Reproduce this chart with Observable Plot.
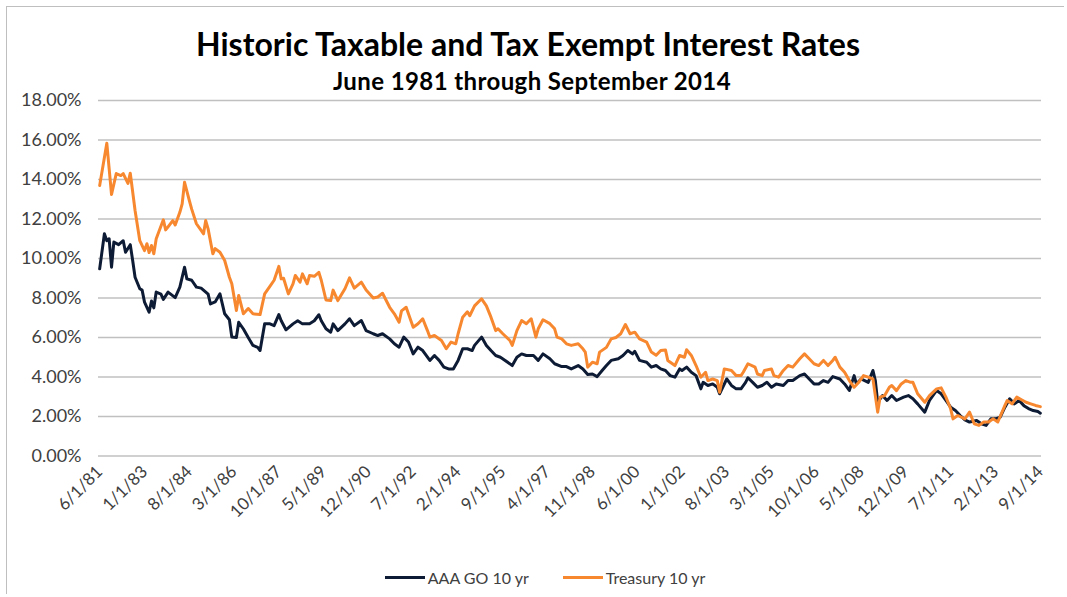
<!DOCTYPE html>
<html>
<head>
<meta charset="utf-8">
<script src="https://cdn.jsdelivr.net/npm/d3@7"></script>
<script src="https://cdn.jsdelivr.net/npm/@observablehq/plot@0.6"></script>
<style>
  html, body { margin: 0; padding: 0; background: #fff; }
  #frame { position: absolute; left: 6px; top: 6px; width: 1058px; height: 588px; border: 1px solid #bfbfbf; border-right: none; border-bottom: none; box-sizing: border-box; }
  #title { position: absolute; left: 0; width: 1056px; top: 25px; text-align: center; font-family: Lato, "Open Sans", sans-serif; font-weight: bold; font-size: 32px; color: #000; line-height: 38px; }
  #subtitle { position: absolute; left: 0; width: 1064px; top: 67px; text-align: center; font-family: Lato, "Open Sans", sans-serif; font-weight: bold; font-size: 24px; letter-spacing: 0.4px; color: #000; line-height: 28px; }
  #chart { position: absolute; left: 0; top: 76px; }
  #legend { position: absolute; left: 0; width: 1090px; top: 563px; text-align: center; font-family: Lato, "Liberation Sans", sans-serif; font-size: 16px; color: #404040; }
  .item { display: inline-flex; align-items: center; margin: 0 17px; }
  .sw { display: inline-block; width: 40px; height: 3px; margin-right: 3px; }
</style>
</head>
<body>
<div id="frame"></div>
<div id="title">Historic Taxable and Tax Exempt Interest Rates</div>
<div id="subtitle">June 1981 through September 2014</div>
<div id="chart"></div>
<div id="legend"></div>
<script>
// Series names and colours
const seriesNames = ["AAA GO 10 yr", "Treasury 10 yr"];
const seriesColors = ["#0e1b34", "#f7882f"];

// Category-axis labels shown on the x axis
const tickLabels = ["6/1/81","1/1/83","8/1/84","3/1/86","10/1/87","5/1/89","12/1/90","7/1/92","2/1/94","9/1/95","4/1/97","11/1/98","6/1/00","1/1/02","8/1/03","3/1/05","10/1/06","5/1/08","12/1/09","7/1/11","2/1/13","9/1/14"];

// Y tick values (percent)
const yTicks = [0, 2, 4, 6, 8, 10, 12, 14, 16, 18];

// AAA GO 10 yr (percent), [month, value]
const aaaGO = [
["1981-06",9.48],["1981-08",11.25],["1981-09",10.9],["1981-10",11.0],["1981-11",9.56],["1981-12",10.83],
["1982-02",10.7],["1982-04",10.9],["1982-05",10.32],["1982-07",10.7],["1982-08",9.9],["1982-09",9.05],["1982-11",8.47],["1982-12",8.4],
["1983-01",7.79],["1983-03",7.28],["1983-04",7.85],["1983-05",7.5],["1983-06",8.3],["1983-08",8.2],["1983-09",7.93],["1983-11",8.3],
["1984-02",8.02],["1984-04",8.55],["1984-06",9.56],["1984-07",8.97],["1984-09",8.9],["1984-11",8.55],
["1985-01",8.5],["1985-04",8.2],["1985-05",7.7],["1985-07",7.8],["1985-09",8.21],["1985-11",7.2],
["1986-01",6.9],["1986-02",6.02],["1986-04",6.0],["1986-05",6.77],["1986-07",6.43],["1986-09",6.0],["1986-11",5.6],
["1987-01",5.5],["1987-02",5.34],["1987-04",6.69],["1987-06",6.7],["1987-08",6.6],["1987-10",7.16],["1987-11",6.85],
["1988-01",6.39],["1988-04",6.69],["1988-06",6.85],["1988-08",6.69],["1988-11",6.7],
["1989-01",6.85],["1989-03",7.15],["1989-04",6.85],["1989-06",6.44],["1989-08",6.27],["1989-09",6.69],["1989-11",6.35],
["1990-02",6.69],["1990-04",6.95],["1990-06",6.6],["1990-09",6.86],["1990-11",6.35],
["1991-02",6.19],["1991-04",6.1],["1991-06",6.19],["1991-09",5.93],["1991-11",5.68],
["1992-01",5.51],["1992-03",6.02],["1992-05",5.77],["1992-07",5.17],["1992-09",5.51],["1992-11",5.34],
["1993-02",4.84],["1993-04",5.09],["1993-06",4.84],["1993-08",4.5],["1993-10",4.41],["1993-12",4.41],
["1994-02",4.84],["1994-04",5.43],["1994-06",5.43],["1994-08",5.34],["1994-09",5.6],["1994-12",6.02],
["1995-02",5.6],["1995-04",5.34],["1995-06",5.09],["1995-08",5.0],["1995-10",4.84],
["1996-01",4.58],["1996-03",5.0],["1996-05",5.17],["1996-07",5.09],["1996-10",5.09],["1996-12",4.84],
["1997-02",5.17],["1997-05",4.92],["1997-07",4.67],["1997-10",4.53],["1997-12",4.53],
["1998-02",4.41],["1998-05",4.58],["1998-07",4.41],["1998-09",4.13],["1998-11",4.15],
["1999-01",4.02],["1999-03",4.3],["1999-05",4.58],["1999-07",4.84],["1999-10",4.92],["1999-12",5.09],
["2000-02",5.34],["2000-04",5.17],["2000-05",5.3],["2000-07",4.84],["2000-10",4.75],["2000-12",4.5],
["2001-02",4.58],["2001-04",4.41],["2001-06",4.33],["2001-08",4.07],["2001-10",3.99],["2001-12",4.41],
["2002-01",4.33],["2002-03",4.5],["2002-05",4.24],["2002-07",4.07],["2002-09",3.4],["2002-10",3.73],["2002-12",3.57],
["2003-02",3.65],["2003-04",3.48],["2003-05",3.15],["2003-08",3.9],["2003-10",3.57],["2003-12",3.4],
["2004-02",3.4],["2004-04",3.73],["2004-05",3.96],["2004-07",3.73],["2004-09",3.48],["2004-11",3.57],
["2005-01",3.73],["2005-03",3.48],["2005-05",3.65],["2005-08",3.57],["2005-10",3.82],["2005-12",3.82],
["2006-03",4.07],["2006-05",4.15],["2006-07",3.9],["2006-09",3.65],["2006-11",3.65],
["2007-01",3.82],["2007-03",3.73],["2007-05",4.02],["2007-08",3.9],["2007-10",3.65],["2007-12",3.32],
["2008-02",4.07],["2008-03",3.65],["2008-05",3.9],["2008-08",3.73],["2008-10",4.33],["2008-11",3.82],["2008-12",2.72],
["2009-02",3.06],["2009-04",2.81],["2009-06",3.06],["2009-08",2.81],["2009-11",2.98],
["2010-01",3.06],["2010-03",2.9],["2010-05",2.64],["2010-08",2.22],["2010-10",2.81],
["2011-01",3.32],["2011-03",3.15],["2011-05",2.81],["2011-07",2.47],["2011-09",2.3],["2011-11",2.05],
["2012-01",1.83],["2012-03",1.72],["2012-06",1.8],["2012-08",1.63],["2012-10",1.55],["2012-12",1.88],
["2013-02",1.88],["2013-04",1.97],["2013-06",2.47],["2013-08",2.9],["2013-10",2.64],["2013-12",2.81],
["2014-02",2.55],["2014-04",2.4],["2014-06",2.3],["2014-08",2.25],["2014-09",2.17]
];

// Treasury 10 yr (percent), [month, value]
const treasury10 = [
["1981-06",13.7],["1981-09",15.84],["1981-11",13.24],
["1982-01",14.3],["1982-03",14.2],["1982-04",14.3],["1982-06",13.8],["1982-07",14.32],["1982-09",12.43],["1982-11",10.9],
["1983-01",10.4],["1983-02",10.75],["1983-03",10.3],["1983-04",10.66],["1983-05",10.24],["1983-06",11.0],["1983-09",11.96],["1983-10",11.45],["1983-11",11.6],
["1984-01",11.92],["1984-02",11.7],["1984-04",12.34],["1984-05",12.77],["1984-06",13.86],["1984-08",12.94],["1984-09",12.5],["1984-11",11.76],
["1985-01",11.42],["1985-02",11.25],["1985-03",11.92],["1985-04",11.5],["1985-06",10.24],["1985-07",10.5],["1985-09",10.32],["1985-11",9.9],
["1986-01",9.05],["1986-02",8.72],["1986-04",7.37],["1986-05",8.13],["1986-07",7.2],["1986-09",7.47],["1986-11",7.2],
["1987-02",7.16],["1987-04",8.21],["1987-06",8.55],["1987-08",8.9],["1987-10",9.6],["1987-11",8.97],["1987-12",9.0],
["1988-02",8.21],["1988-04",8.72],["1988-05",9.14],["1988-07",8.8],["1988-08",9.22],["1988-10",8.72],["1988-11",9.14],
["1989-01",9.1],["1989-03",9.3],["1989-04",8.9],["1989-06",7.9],["1989-08",7.87],["1989-09",8.4],["1989-11",7.87],
["1990-02",8.47],["1990-04",9.02],["1990-06",8.5],["1990-09",8.8],["1990-11",8.4],
["1991-02",8.0],["1991-04",8.05],["1991-06",8.24],["1991-09",7.53],["1991-11",7.2],
["1992-01",6.77],["1992-02",7.35],["1992-04",7.53],["1992-07",6.52],["1992-09",6.7],["1992-11",6.95],
["1993-01",6.35],["1993-02",6.02],["1993-04",6.1],["1993-07",5.85],["1993-09",5.43],["1993-11",5.77],
["1994-01",5.68],["1994-02",6.19],["1994-04",7.03],["1994-06",7.3],["1994-07",7.1],["1994-09",7.6],["1994-12",7.96],
["1995-02",7.6],["1995-04",7.03],["1995-06",6.35],["1995-07",6.44],["1995-09",6.19],["1995-12",5.85],
["1996-01",5.6],["1996-03",6.35],["1996-05",6.86],["1996-07",6.7],["1996-09",6.95],["1996-11",6.02],["1996-12",6.44],
["1997-02",6.9],["1997-05",6.7],["1997-07",6.44],["1997-08",6.02],["1997-10",5.93],["1997-12",5.68],
["1998-02",5.6],["1998-05",5.68],["1998-07",5.43],["1998-08",5.26],["1998-09",4.5],["1998-11",4.75],
["1999-01",4.67],["1999-02",5.26],["1999-05",5.5],["1999-07",5.93],["1999-09",6.0],["1999-11",6.19],
["2000-01",6.66],["2000-03",6.19],["2000-05",6.27],["2000-07",5.93],["2000-10",5.77],["2000-12",5.26],
["2001-02",5.1],["2001-04",5.34],["2001-06",5.37],["2001-07",4.84],["2001-10",4.58],["2001-12",5.09],
["2002-02",5.0],["2002-03",5.38],["2002-05",5.09],["2002-07",4.58],["2002-09",3.99],["2002-11",4.24],["2002-12",3.82],
["2003-02",3.9],["2003-04",3.82],["2003-05",3.23],["2003-07",4.41],["2003-10",4.33],["2003-12",4.07],
["2004-02",4.07],["2004-03",4.24],["2004-05",4.67],["2004-08",4.5],["2004-09",4.15],["2004-11",4.07],["2004-12",4.33],
["2005-03",4.41],["2005-04",4.07],["2005-06",3.99],["2005-08",4.33],["2005-10",4.58],["2005-12",4.5],
["2006-03",4.92],["2006-05",5.17],["2006-07",4.92],["2006-09",4.67],["2006-11",4.58],
["2007-01",4.84],["2007-03",4.58],["2007-05",4.84],["2007-06",5.0],["2007-08",4.5],["2007-10",4.24],["2007-12",3.82],
["2008-02",3.48],["2008-04",3.73],["2008-06",4.07],["2008-08",3.99],["2008-10",3.9],["2008-12",2.22],
["2009-01",2.98],["2009-03",3.06],["2009-05",3.48],["2009-06",3.57],["2009-08",3.31],["2009-10",3.65],["2009-12",3.82],
["2010-02",3.73],["2010-03",3.73],["2010-05",3.15],["2010-08",2.72],["2010-10",3.06],
["2011-01",3.4],["2011-03",3.45],["2011-05",2.98],["2011-07",2.39],["2011-08",1.88],["2011-10",2.05],
["2012-01",1.88],["2012-03",2.22],["2012-05",1.63],["2012-07",1.55],["2012-09",1.72],["2012-11",1.72],
["2013-01",1.88],["2013-03",1.72],["2013-06",2.56],["2013-07",2.81],["2013-09",2.64],["2013-11",2.98],
["2014-01",2.85],["2014-03",2.72],["2014-05",2.64],["2014-07",2.56],["2014-09",2.5]
];

const parseMonth = d3.utcParse("%Y-%m");
const parseLabel = d3.utcParse("%-m/%-d/%y");
const toRows = (arr, name) => arr.map(([m, v]) => ({date: parseMonth(m), value: v, series: name}));
const rows = [...toRows(aaaGO, seriesNames[0]), ...toRows(treasury10, seriesNames[1])];
const tickDates = tickLabels.map(parseLabel);
const labelByTime = new Map(tickDates.map((d, i) => [+d, tickLabels[i]]));

const first = tickDates[0], last = tickDates[tickDates.length - 1];
const halfMonth = 15.2 * 24 * 3600 * 1000;

const chart = Plot.plot({
  width: 1067,
  height: 484,
  marginLeft: 98,
  marginRight: 26,
  marginTop: 24,
  marginBottom: 104.5,
  style: {fontFamily: "Lato, 'Liberation Sans', sans-serif", fontSize: "16px", color: "#404040", background: "transparent"},
  x: {type: "utc", domain: [new Date(+first - halfMonth), new Date(+last + halfMonth)]},
  y: {domain: [0, 18]},
  marks: [
    Plot.gridY(yTicks, {stroke: "#c0c0c0", strokeOpacity: 1, strokeWidth: 1.3}),
    Plot.axisY(yTicks, {tickSize: 0, tickPadding: 17, tickFormat: d => d.toFixed(2) + "%", fontSize: 18, label: null}),
    Plot.axisX(tickDates, {tickSize: 0, tickPadding: 13, tickRotate: -45, tickFormat: d => labelByTime.get(+d), fontSize: 17, label: null}),
    Plot.line(rows, {x: "date", y: "value", z: "series", stroke: "series", strokeWidth: 3, curve: "linear"})
  ],
  color: {domain: seriesNames, range: seriesColors}
});
document.getElementById("chart").appendChild(chart);

const legend = document.getElementById("legend");
seriesNames.forEach((name, i) => {
  const item = document.createElement("span");
  item.className = "item";
  const sw = document.createElement("span");
  sw.className = "sw";
  sw.style.background = seriesColors[i];
  item.appendChild(sw);
  item.appendChild(document.createTextNode(name));
  legend.appendChild(item);
});
</script>
</body>
</html>
